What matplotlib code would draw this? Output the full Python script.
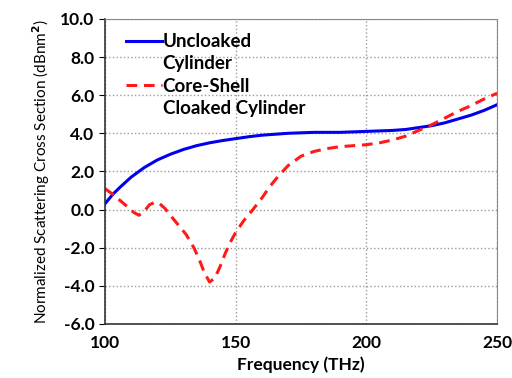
import matplotlib.pyplot as plt
from matplotlib.lines import Line2D

# frequency (THz) and normalized scattering cross section (dBnm^2)
freq_unc = [100, 103, 106, 110, 115, 120, 125, 130, 135, 140, 145, 150, 155, 160, 170, 180,
            190, 200, 210, 215, 220, 225, 230, 235, 240, 245, 250]
scs_unc = [0.3, 0.8, 1.2, 1.7, 2.2, 2.6, 2.9, 3.15, 3.35, 3.5, 3.62, 3.72, 3.82, 3.9, 4.0, 4.05,
           4.05, 4.1, 4.15, 4.2, 4.3, 4.4, 4.55, 4.75, 4.95, 5.2, 5.5]

freq_clk = [100, 103, 106, 109, 111, 113, 115, 117, 119, 121, 123, 125, 128, 131, 134, 136,
            138, 140, 142, 144, 146, 148, 150, 153, 156, 160, 163, 166, 170, 175, 180,
            185, 190, 195, 200, 205, 210, 215, 220, 225, 230, 235, 240, 245, 250]
scs_clk = [1.1, 0.8, 0.45, 0.1, -0.15, -0.3, -0.1, 0.25, 0.38, 0.3, 0.05, -0.3, -0.8, -1.3, -2.0, -2.6,
           -3.3, -3.8, -3.6, -3.0, -2.3, -1.7, -1.2, -0.6, -0.1, 0.6, 1.2, 1.7, 2.3, 2.8, 3.05,
           3.2, 3.3, 3.35, 3.4, 3.5, 3.65, 3.85, 4.15, 4.45, 4.8, 5.15, 5.45, 5.8, 6.1]

xticks = [100, 150, 200, 250]
yticks = [-6, -4, -2, 0, 2, 4, 6, 8, 10]

plt.rcParams['font.family'] = ['Lato', 'DejaVu Sans']
plt.rcParams['font.weight'] = 'bold'

fig = plt.figure(figsize=(5.12, 3.78), dpi=100)
ax = fig.add_axes([0.205, 0.143, 0.766, 0.807])

l1, = ax.plot(freq_unc, scs_unc, color='#0000ee', lw=2.2)
l2, = ax.plot(freq_clk, scs_clk, color='#ff1a1a', lw=2.2, ls=(0, (3.5, 2.2)))

ax.set_xlim(100, 250)
ax.set_ylim(-6, 10)
ax.set_xticks(xticks)
ax.set_yticks(yticks)
ax.set_yticklabels([f'{v:.1f}' for v in yticks])
ax.grid(True, color='#999999', ls=':', lw=1)
ax.tick_params(axis='x', length=0, labelsize=12.5, pad=8)
ax.tick_params(axis='y', direction='out', length=4, labelsize=12.5)
for s in ['top', 'right']:
    ax.spines[s].set_color('#888888')
for s in ['left', 'bottom']:
    ax.spines[s].set_color('#333333')
    ax.spines[s].set_linewidth(1.2)

ax.set_xlabel('Frequency (THz)', fontsize=12.5, fontweight='bold', labelpad=4)
ax.set_ylabel('Normalized Scattering Cross Section (dBnm$^2$)', fontsize=11, fontweight='normal', labelpad=6)

# two-line legend labels: blank handles for the second lines
blank = Line2D([], [], color='none')
ax.legend([l1, blank, l2, blank],
          ['Uncloaked', 'Cylinder', 'Core-Shell', 'Cloaked Cylinder'],
          loc='upper left', frameon=False, fontsize=13.5, handlelength=1.9,
          handletextpad=0.05, labelspacing=0.28, borderaxespad=0.0,
          bbox_to_anchor=(0.035, 0.978))

fig.savefig('out.png', dpi=100)
